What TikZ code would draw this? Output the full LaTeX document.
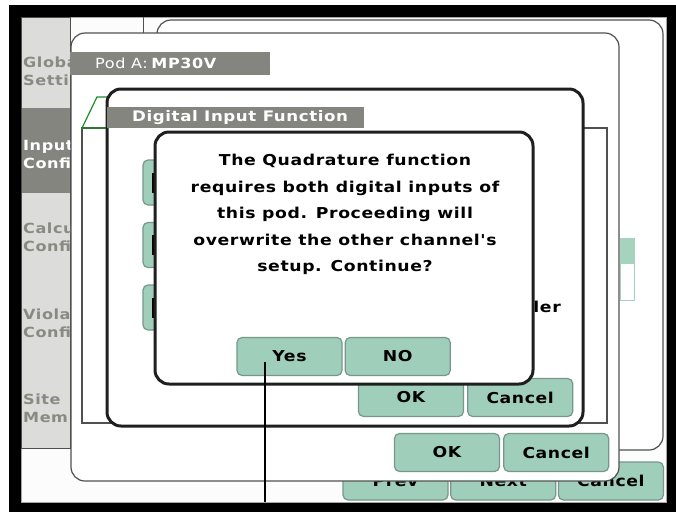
\documentclass[tikz,border=0pt]{standalone}
\usepackage{fontspec}
\usepackage{tikz}
\usetikzlibrary{positioning}
\newfontfamily\uifont[FakeStretch=1.15,LetterSpace=4]{DejaVu Sans}
\definecolor{screenwhite}{RGB}{252,252,252}
\definecolor{sidegray}{RGB}{220,220,218}
\definecolor{sidetext}{RGB}{138,138,130}
\definecolor{titlegray}{RGB}{133,133,128}
\definecolor{btnfill}{RGB}{159,207,187}
\definecolor{btnedge}{RGB}{120,150,138}
\definecolor{tabgreen}{RGB}{30,140,40}
\definecolor{barfill}{RGB}{166,211,190}
\definecolor{winedge}{RGB}{80,80,80}

\begin{document}
\begin{tikzpicture}[x=1pt, y=-1pt,
    win/.style={draw=winedge, fill=white, line width=1.2pt, rounded corners=14pt},
    dlg/.style={draw=black!88, fill=white, line width=3pt, rounded corners=14pt},
    btn/.style={draw=btnedge, fill=btnfill, line width=1.2pt, rounded corners=5pt, minimum width=105pt, minimum height=38pt, inner sep=0pt, font=\uifont\bfseries\fontsize{15}{18}\selectfont},
    sidetxt/.style={anchor=west, align=left, inner sep=0pt, text=sidetext, font=\uifont\bfseries\fontsize{14}{18}\selectfont},
    titletxt/.style={anchor=west, inner sep=0pt, text=white, font=\uifont\fontsize{14}{16}\selectfont},
    msg/.style={align=center, inner sep=0pt, font=\uifont\bfseries\fontsize{15}{26.4}\selectfont},
  ]
  \useasboundingbox (0,0) rectangle (676,512);
  \fill[white] (0,0) rectangle (676,512);
  \fill[black] (9,5) rectangle (676,512);
  \filldraw[fill=screenwhite, draw=gray!70, line width=0.8pt] (21,17) rectangle (666,502);
  % left menu
  \filldraw[fill=sidegray, draw=winedge, line width=1pt] (21,17) rectangle (70,448);
  \fill[titlegray] (21.5,108) rectangle (69.5,193);
  \node[sidetxt] (glob) at (23,71) {Globa\\Setti};
  \node[sidetxt, text=white] (input) at (23,154) {Input\\Confi};
  \node[sidetxt] (calc) at (23,237.5) {Calcu\\Confi};
  \node[sidetxt] (viol) at (23,323) {Viola\\Confi};
  \node[sidetxt] (site) at (23,408) {Site\\Mem};
  \draw[winedge, line width=1pt] (143,17) -- (143,60);
  % main page buttons
  \node[btn] (prev) at (395.5,481) {Prev};
  \node[btn, right=1.5pt of prev] (next) {Next};
  \node[btn, right=1.5pt of next] (cancelmain) {Cancel};
  % rear window
  \draw[win] (157,20) rectangle (663,450);
  \fill[barfill] (620,238) rectangle (635,263);
  \draw[barfill, line width=1pt] (620.5,263) rectangle (634.5,300);
  % pod window
  \draw[win] (71,33) rectangle (619,481);
  \fill[titlegray] (70,52) rectangle (270,75);
  \node[titletxt] (podname) at (95,63.5) {Pod A:\hspace{3pt}\textbf{MP30V}};
  \draw[winedge, line width=1.2pt] (82,128) rectangle (607,423);
  \draw[tabgreen, line width=1.2pt] (107,128) -- (82,128) -- (97,97) -- (110,97);
  \node[btn] (podok) at (447,452.5) {OK};
  \node[btn, right=3pt of podok] (podcancel) {Cancel};
  % function window
  \draw[dlg] (107,89) rectangle (583,426);
  \fill[titlegray] (107,107) rectangle (364,128);
  \node[titletxt, font=\uifont\bfseries\fontsize{14.5}{16}\selectfont] (fnname) at (132,117.5) {Digital Input Function};
  \foreach \yy/\nm in {182.5/fna, 245/fnb, 307.5/fnc} {
    \node[btn, minimum width=60pt, minimum height=45pt] (\nm) at (173,\yy) {};
    \fill (152,\yy-10) rectangle (157,\yy+10);
  }
  \node[msg, anchor=east] (ler) at (561,307) {ler};
  \node[btn] (fnok) at (411,397.5) {OK};
  \node[btn, right=3pt of fnok] (fncancel) {Cancel};
  % question
  \draw[dlg] (155,132) rectangle (533,384);
  \node[msg] (question) at (345,214.5) {The Quadrature function\\requires both digital inputs of\\this pod. Proceeding will\\overwrite the other channel's\\setup. Continue?};
  \node[btn] (yes) at (289.5,356.5) {Yes};
  \node[btn, right=2pt of yes] (no) {NO};
  \coordinate (tip) at (265,362);
  \coordinate (foot) at (265,502);
  \draw[black, line width=2pt] (tip) -- (foot);
\end{tikzpicture}
\end{document}
